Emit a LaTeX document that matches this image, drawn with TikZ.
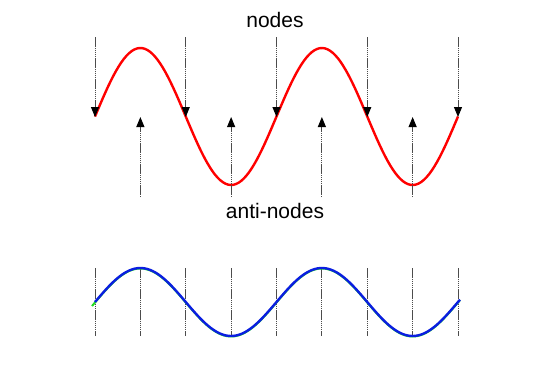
\documentclass[tikz,border=0pt]{standalone}
\usepackage{fontspec}
\setmainfont{Liberation Sans}
\usetikzlibrary{arrows.meta}
\begin{document}
\begin{tikzpicture}[x=1pt, y=-1pt]
    \def\waveStart{95}
    \def\wavePeriod{181.5}
    \def\halfStep{45.375}

    \definecolor{waveRed}{HTML}{FF0000}
    \definecolor{waveBlue}{HTML}{0A1EE0}
    \definecolor{waveGreen}{HTML}{22DD22}

    \tikzset{
        guide/.style={gray!60!black, line width=1pt, dash pattern=on 1.5pt off 0.6pt},
        marker/.style={guide, -{Triangle[length=10pt,width=8pt,color=black]}},
        caption/.style={font=\fontsize{21}{25}\selectfont, inner sep=0pt}
    }

    \useasboundingbox (0,0) rectangle (552,378);

    % Draw red standing wave
    \draw[waveRed, line width=2.4pt] plot[domain=95:458, samples=140]
        (\x, {116.5-68.5*sin((\x-\waveStart)/\wavePeriod*360)});

    % Nodes: arrows pointing down onto the wave
    \foreach \i in {0,...,4} {
        \coordinate (nTop\i) at (\waveStart+\i*2*\halfStep, 37);
        \coordinate (n\i) at (\waveStart+\i*2*\halfStep, 117);
        \draw[marker] (nTop\i) -- (n\i);
    }

    % Anti-nodes: arrows pointing up
    \foreach \i in {0,...,3} {
        \coordinate (aBot\i) at (\waveStart+\halfStep+\i*2*\halfStep, 197);
        \coordinate (a\i) at (\waveStart+\halfStep+\i*2*\halfStep, 117);
        \draw[marker] (aBot\i) -- (a\i);
    }

    % Labels
    \node[caption] (nodesLabel) at (275,20) {nodes};
    \node[caption] (antiLabel) at (275,211) {anti-nodes};

    % Guide lines for the blue wave
    \foreach \i in {0,...,8} {
        \coordinate (gTop\i) at (\waveStart+\i*\halfStep, 268);
        \coordinate (gBot\i) at (\waveStart+\i*\halfStep, 336);
        \draw[guide] (gTop\i) -- (gBot\i);
    }

    % Draw blue wave (green one just behind it)
    \draw[waveGreen, line width=2pt] plot[domain=92:460, samples=140]
        (\x, {302.5-34*sin((\x-\waveStart)/\wavePeriod*360)});
    \draw[waveBlue, line width=2.4pt] plot[domain=95:460, samples=140]
        (\x, {302-34*sin((\x-\waveStart)/\wavePeriod*360)});

\end{tikzpicture}
\end{document}
